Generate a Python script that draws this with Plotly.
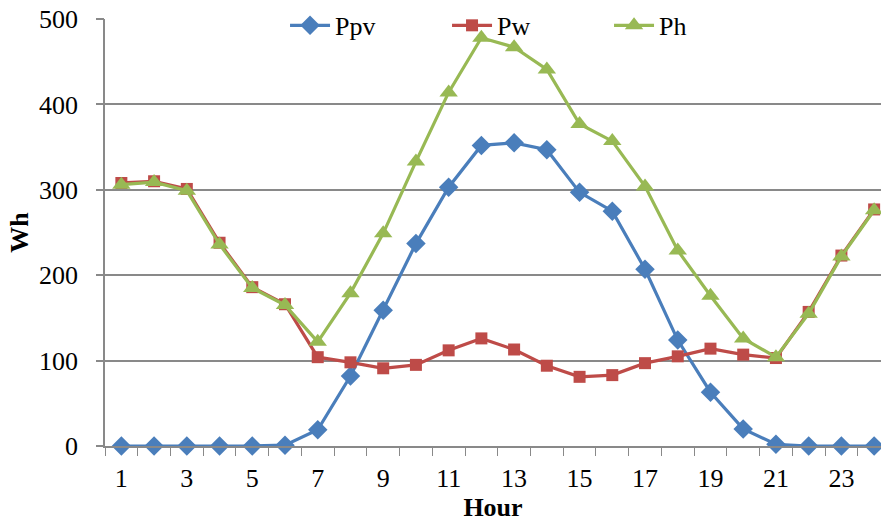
import plotly.graph_objects as go

hours = list(range(1, 25))
ppv = [0, 0, 0, 0, 0, 1, 19, 82, 159, 237, 303, 352, 355, 347, 297, 275, 207, 124, 63, 20, 2, 0, 0, 0]
pw = [308, 310, 301, 238, 186, 166, 104, 98, 91, 95, 112, 126, 113, 94, 81, 83, 97, 105, 114, 107, 103, 157, 223, 277]
ph = [306, 309, 299, 236, 185, 165, 122, 179, 249, 333, 414, 478, 467, 441, 377, 357, 304, 229, 176, 126, 104, 155, 222, 276]
xticks = [1, 3, 5, 7, 9, 11, 13, 15, 17, 19, 21, 23]
yticks = [0, 100, 200, 300, 400, 500]

font_family = "Liberation Serif"
fs = 26

fig = go.Figure()
fig.add_trace(go.Scatter(x=hours, y=ppv, name="Ppv", mode="lines+markers",
                         line=dict(color="#4A7EBB", width=3.2),
                         marker=dict(symbol="diamond", size=15, color="#4A7EBB"),
                         cliponaxis=False))
fig.add_trace(go.Scatter(x=hours, y=pw, name="Pw", mode="lines+markers",
                         line=dict(color="#BE4B48", width=3.2),
                         marker=dict(symbol="square", size=12, color="#BE4B48"),
                         cliponaxis=False))
fig.add_trace(go.Scatter(x=hours, y=ph, name="Ph", mode="lines+markers",
                         line=dict(color="#98B954", width=3.2),
                         marker=dict(symbol="triangle-up", size=16, color="#98B954"),
                         cliponaxis=False))
# invisible helper trace so the overlay axis (visible tick marks) is drawn
fig.add_trace(go.Scatter(x=[hours[0]], y=[yticks[0]], yaxis="y2", mode="markers",
                         marker=dict(opacity=0), showlegend=False, hoverinfo="skip"))

fig.update_layout(
    width=881, height=522,
    margin=dict(l=105, r=0, t=19, b=76),
    paper_bgcolor="white", plot_bgcolor="white",
    font=dict(family=font_family, size=fs, color="black"),
    showlegend=True,
    legend=dict(orientation="h", x=0.232, xanchor="left", y=1.04, yanchor="top",
                bgcolor="rgba(0,0,0,0)", font=dict(size=fs, family=font_family),
                itemwidth=40, entrywidth=107, tracegroupgap=0),
    xaxis=dict(range=[0.5, 24.21], tickvals=xticks, ticktext=[str(v) for v in xticks],
               showgrid=False, zeroline=False, showline=True, linecolor="#898989", linewidth=1.5,
               ticks="", tickfont=dict(size=fs, family=font_family), ticklabelstandoff=8,
               minor=dict(tick0=0.5, dtick=1, ticks="outside", ticklen=8, tickcolor="#898989", showgrid=False),
               title=dict(text="<b>Hour</b>", font=dict(size=fs, family=font_family), standoff=10)),
    yaxis=dict(range=[0, 500], tickvals=yticks, ticktext=[str(v) for v in yticks],
               showgrid=True, gridcolor="#898989", gridwidth=1.5,
               zeroline=False, showline=True, linecolor="#898989", linewidth=1.5,
               ticks="outside", ticklen=20, tickcolor="rgba(0,0,0,0)",
               tickfont=dict(size=fs, family=font_family),
               title=dict(text="<b>Wh</b>", font=dict(size=fs, family=font_family), standoff=3)),
    yaxis2=dict(range=[0, 500], tickvals=yticks, overlaying="y", side="left",
                showgrid=False, zeroline=False, showline=False, showticklabels=False,
                ticks="outside", ticklen=8, tickcolor="#898989", tickwidth=1.5),
)

fig.write_html("out.html")
